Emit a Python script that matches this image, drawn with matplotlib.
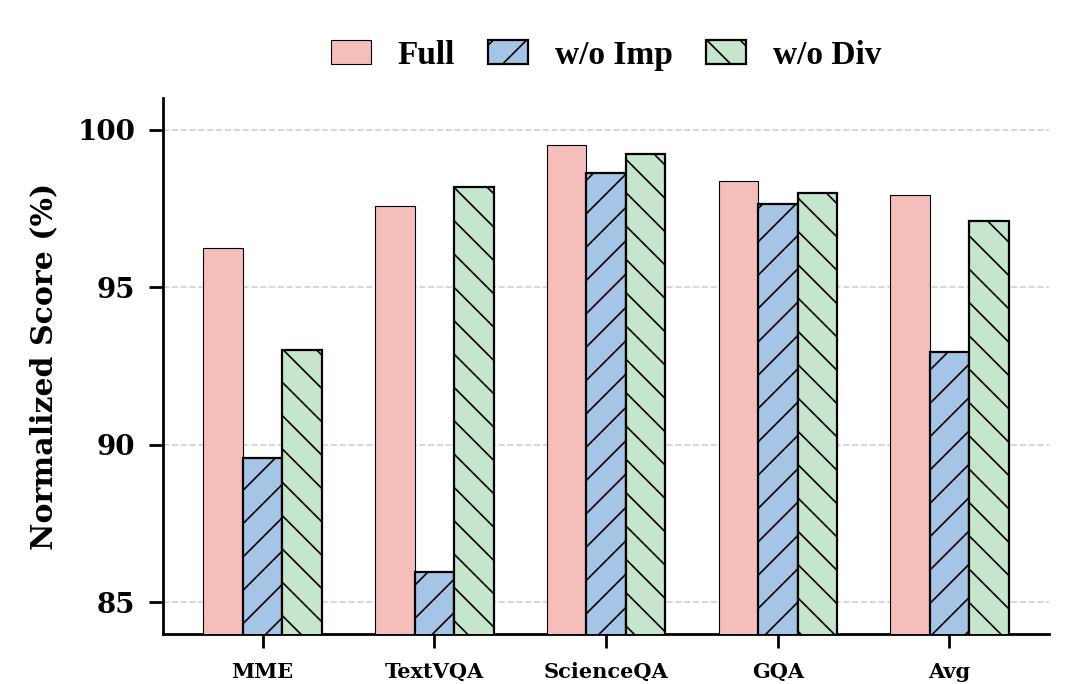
import numpy as np
import matplotlib
matplotlib.use("Agg")
import matplotlib.pyplot as plt

# ----------- data -----------
categories = ["MME", "TextVQA", "ScienceQA", "GQA", "Avg"]
series_names = ["Full", "w/o Imp", "w/o Div"]
full = [96.23, 97.56, 99.52, 98.38, 97.92]
wo_imp = [89.57, 85.96, 98.61, 97.65, 92.95]
wo_div = [93.00, 98.19, 99.24, 98.00, 97.11]
y_ticks = [85, 90, 95, 100]

colors = ["#F5BEBB", "#A6C4E5", "#C6E5CD"]
hatches = ["", "//", "\\\\"]
edge_w = [0.4, 0.8, 0.8]

plt.rcParams["hatch.linewidth"] = 0.6
plt.rcParams["font.family"] = ["DejaVu Serif"]
plt.rcParams["font.weight"] = "bold"

fig = plt.figure(figsize=(1079 / 200, 684 / 200), dpi=200)
ax = fig.add_axes([0.1511, 0.0731, 0.8211, 0.7836])

x = np.arange(len(categories))
width = 0.23
for i, (vals, name) in enumerate(zip([full, wo_imp, wo_div], series_names)):
    ax.bar(x + (i - 1) * width, vals, width, color=colors[i], hatch=hatches[i],
           edgecolor="black", linewidth=edge_w[i], label=name, zorder=3)

ax.set_ylim(84, 101)
ax.set_yticks(y_ticks)
ax.set_yticklabels([str(t) for t in y_ticks], fontsize=10, fontweight="bold")
ax.set_xticks(x)
ax.set_xticklabels(categories, fontsize=7.5, fontweight="bold")
ax.set_ylabel("Normalized Score (%)", fontsize=10.8, fontweight="bold", labelpad=7)

ax.grid(axis="y", linestyle="--", color="#d0d0d0", linewidth=0.6, zorder=0)
ax.set_axisbelow(True)
for s in ["top", "right"]:
    ax.spines[s].set_visible(False)
for s in ["left", "bottom"]:
    ax.spines[s].set_linewidth(1.0)
ax.tick_params(axis="both", length=5, width=1.0)
ax.tick_params(axis="y", pad=5)
ax.tick_params(axis="x", pad=5)

ax.legend(loc="center", bbox_to_anchor=(0.5, 1.08), ncol=3, frameon=False,
          handlelength=1.2, columnspacing=1.0, handletextpad=0.8,
          prop={"family": "Liberation Serif", "weight": "bold", "size": 12})

fig.savefig("out.png", dpi=200)
